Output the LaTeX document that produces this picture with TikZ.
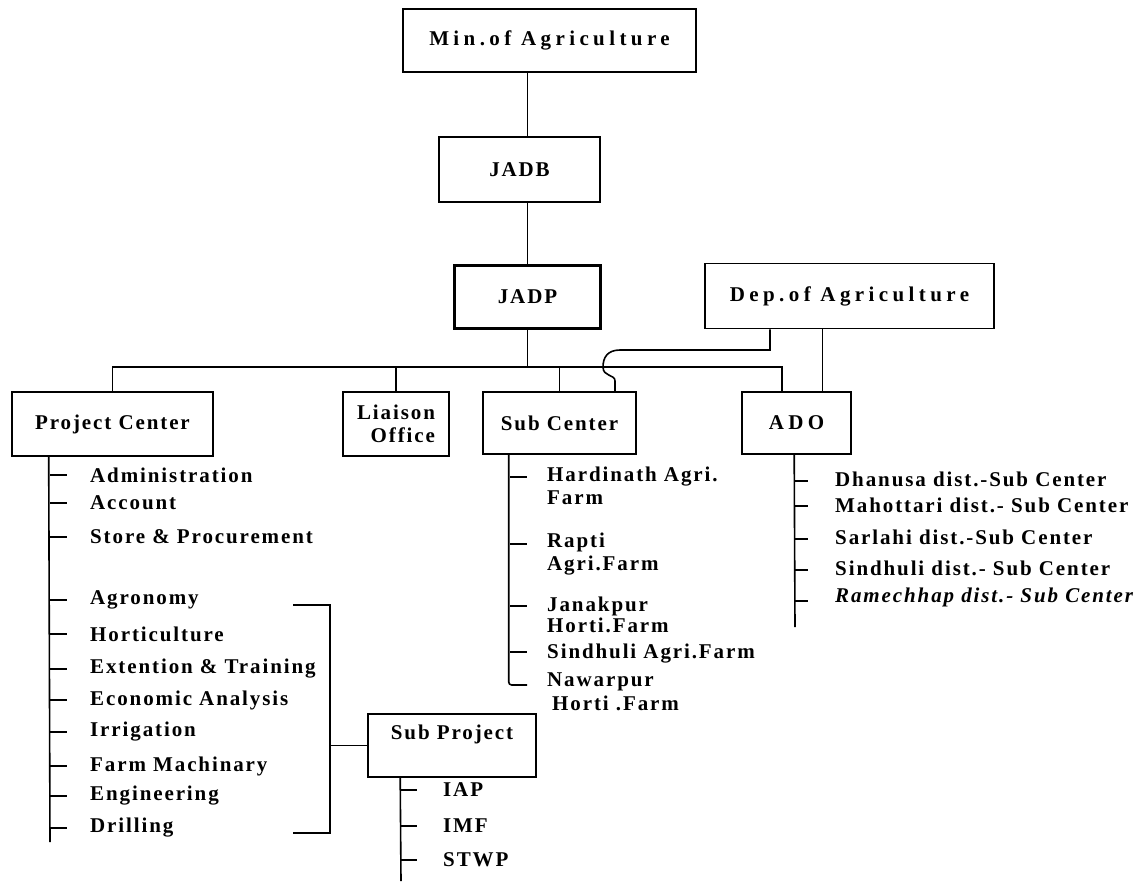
\documentclass[tikz,border=0pt]{standalone}
\usepackage{fontspec}
\usetikzlibrary{arrows.meta}
\newfontfamily\orgfont{Liberation Serif}[LetterSpace=9]
\newfontfamily\orgwidefont{Liberation Serif}[LetterSpace=21]
\newcommand\orgsize{\fontsize{21}{23.5}\selectfont}

\begin{document}
\begin{tikzpicture}[x=1pt,y=-1pt,
      unit/.style={draw,line width=1.6pt,inner sep=0pt,align=center,font=\orgfont\bfseries\orgsize},
      wideunit/.style={unit,font=\orgwidefont\bfseries\orgsize},
      item/.style={anchor=west,inner sep=0pt,align=left,font=\orgfont\bfseries\orgsize},
      link/.style={line width=1.6pt}
    ]
      \fill[white] (0,0) rectangle (1143,881);
      % boxes
      \node[wideunit,minimum width=293pt,minimum height=63pt] (min) at (549.5,40.5) {Min.of Agriculture};
      \node[unit,minimum width=161pt,minimum height=65pt] (jadb) at (519.5,169.5) {JADB};
      \node[unit,line width=3pt,minimum width=146pt,minimum height=63pt] (jadp) at (527.5,296.5) {JADP};
      \node[wideunit,minimum width=289pt,minimum height=65pt] (dep) at (849.5,296) {Dep.of Agriculture};
      \node[unit,minimum width=201pt,minimum height=64pt] (pc) at (112.5,424) {Project Center};
      \node[unit,align=right,minimum width=106pt,minimum height=64pt] (liaison) at (396,424) {\hfill Liaison\\Office};
      \node[unit,minimum width=153pt,minimum height=62pt] (subc) at (559.5,423) {Sub Center};
      \node[wideunit,minimum width=109pt,minimum height=62pt] (ado) at (796.5,423) {ADO};
      \node[unit,minimum width=168pt,minimum height=63pt] (subp) at (452,745.5) {Sub Project\\[4pt]};

      % trunk and bus
      \coordinate (bus) at (0,367);
      \coordinate (adodrop) at ([xshift=-14.5pt]ado.north);
      \coordinate (depL) at ([xshift=-79.5pt]dep.south);
      \coordinate (depR) at ([xshift=-27pt]dep.south);
      \coordinate (subcR) at ([xshift=55.5pt]subc.north);
      \draw[link] (min.south -| jadp) -- (jadb.north -| jadp);
      \draw[link] (jadb.south -| jadp) -- (jadp.north);
      \draw[link] (jadp.south) -- (jadp.south |- bus);
      \draw[link] (pc.north) -- (pc.north |- bus) -- (bus -| adodrop) -- (adodrop);
      \draw[link] (liaison.north) -- (liaison.north |- bus);
      \draw[link] (subc.north) -- (subc.north |- bus);
      \draw[link] (depR) -- (depR |- ado.north);
      \draw[link] (depL) |- (620,350) .. controls (607,350) and (603,358) .. (603,367)
        .. controls (603,377) and (615,374) .. (615,381) -- (subcR);

      % Project Center list
      \coordinate (pcspine) at ([xshift=37.5pt]pc.south west);
      \coordinate (pcend) at (50,842);
      \draw[link] (pcspine) -- (pcend);
      \foreach \txt/\y [count=\i] in {Administration/475,Account/503,Store \& Procurement/537,
          Agronomy/600,Horticulture/634,Extention \& Training/669,Economic Analysis/700,
          Irrigation/732,Farm Machinary/766,Engineering/796,Drilling/828}{
        \node[item] (pc\i) at (90,\y) {\txt};
        \draw[link] (50,\y) -- (67,\y);
      }
      % bracket to Sub Project
      \coordinate (brx) at (330,0);
      \draw[link] (293,605) -- (brx |- 0,605) -- (brx |- 0,833) -- (293,833);
      \draw[link] (subp.west) -- (subp.west -| brx);

      % Sub Project list
      \coordinate (spspine) at ([xshift=33pt]subp.south west);
      \coordinate (spend) at (401,881);
      \draw[link] (spspine) -- (spend);
      \foreach \txt/\y [count=\i] in {IAP/790,IMF/826,STWP/860}{
        \node[item] (sp\i) at (443,\y) {\txt};
        \draw[link] (401,\y) -- (417,\y);
      }

      % Sub Center list
      \coordinate (scspine) at ([xshift=26.5pt]subc.south west);
      \coordinate (scend) at (527,685);
      \draw[link,rounded corners=3pt] (scspine) |- (scend);
      \node[item] (sc1) at (547,486) {Hardinath Agri.\\Farm};
      \node[item] (sc2) at (547,554) {Rapti\\Agri.Farm};
      \node[item] (sc3) at (547,615) {Janakpur\\[-2pt]Horti.Farm};
      \node[item] (sc4) at (547,654) {Sindhuli Agri.Farm};
      \node[item] (sc5) at (547,692) {Nawarpur\\\hspace*{5pt}Horti .Farm};
      \foreach \y in {477,544,606,652}
        \draw[link] (510,\y) -- (527,\y);

      % ADO list
      \coordinate (adospine) at ([xshift=53pt]ado.south west);
      \coordinate (adoend) at (795,627);
      \draw[link] (adospine) -- (adoend);
      \foreach \txt/\y/\ty [count=\i] in {Dhanusa dist.-Sub Center/479/481,
          Mahottari dist.- Sub Center/505/506,Sarlahi dist.-Sub Center/537/539,
          Sindhuli dist.- Sub Center/568/570,{\itshape Ramechhap dist.- Sub Center}/597/601}{
        \node[item] (ado\i) at (835,\y) {\txt};
        \draw[link] (795,\ty) -- (808,\ty);
      }
    \end{tikzpicture}
\end{document}
